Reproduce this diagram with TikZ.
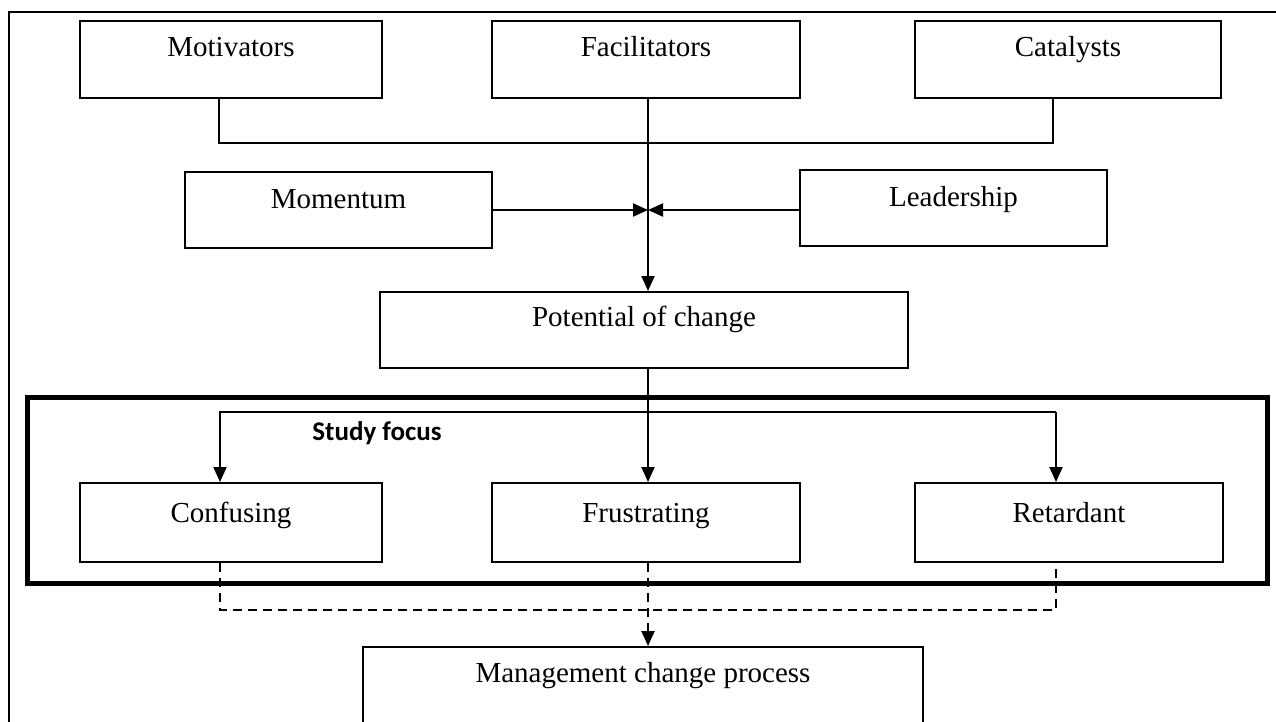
\documentclass[tikz,border=0pt]{standalone}
\usepackage{fontspec}
\setmainfont{Liberation Serif}
\newfontfamily\calib{Carlito}
\usetikzlibrary{arrows.meta}
\begin{document}
\begin{tikzpicture}[x=1pt,y=-1pt,
  box/.style={draw, line width=2pt, inner sep=0pt},
  lbl/.style={anchor=base, font=\fontsize{29}{32}\selectfont, inner sep=0pt},
  arr/.style={-{Triangle[length=15pt,width=13pt]}, line width=2pt},
  conn/.style={line width=2pt},
  dsh/.style={line width=2pt, dash pattern=on 9pt off 6pt}]
\useasboundingbox (0,0) rectangle (1276,722);
\clip (0,0) rectangle (1276,722);
\fill[white] (0,0) rectangle (1276,722);
% outer frame (cropped)
\draw[line width=2.5pt] (9,730) -- (9,12) -- (1280,12);

% boxes
\node[box, minimum width=302pt, minimum height=77pt] (mot) at (231,59.5) {};
\node[box, minimum width=308pt, minimum height=77pt] (fac) at (646,59.5) {};
\node[box, minimum width=306pt, minimum height=77pt] (cat) at (1068,59.5) {};
\node[box, minimum width=307pt, minimum height=76pt] (mom) at (338.5,210) {};
\node[box, minimum width=307pt, minimum height=76pt] (lea) at (953.5,208) {};
\node[box, minimum width=528pt, minimum height=76pt] (pot) at (644,330) {};
\node[draw, line width=5pt, inner sep=0pt, minimum width=1240pt, minimum height=186pt] (focus) at (647,490) {};
\node[box, minimum width=302pt, minimum height=79pt] (con) at (231,522.5) {};
\node[box, minimum width=308pt, minimum height=79pt] (fru) at (646,522.5) {};
\node[box, minimum width=308pt, minimum height=79pt] (ret) at (1069,522.5) {};
\node[box, minimum width=560pt, minimum height=100pt] (man) at (643,697) {};

% labels
\node[lbl] (motT) at (mot.center |- 0,57) {Motivators};
\node[lbl] (facT) at (fac.center |- 0,57) {Facilitators};
\node[lbl] (catT) at (cat.center |- 0,57) {Catalysts};
\node[lbl] (momT) at (mom.center |- 0,208) {Momentum};
\node[lbl] (leaT) at (lea.center |- 0,207) {Leadership};
\node[lbl] (potT) at (pot.center |- 0,326) {Potential of change};
\node[lbl] (conT) at (con.center |- 0,522) {Confusing};
\node[lbl] (fruT) at (fru.center |- 0,522) {Frustrating};
\node[lbl] (retT) at (ret.center |- 0,522) {Retardant};
\node[lbl] (manT) at (man.center |- 0,682) {Management change process};
\node[anchor=base, inner sep=0pt, font=\calib\bfseries\fontsize{27}{30}\selectfont] (sf) at (377,440) {Study focus};

% junction coordinates
\coordinate (jx) at (648,0);
\coordinate (m1) at (219,143);
\coordinate (c1) at (1053,143);
\coordinate (jn) at (648,210);
\coordinate (h1) at (220,412);
\coordinate (h2) at (1056,412);
\coordinate (d1) at (220,610);
\coordinate (d2) at (1056,610);

% connectors
\draw[conn] (m1 |- mot.south) -- (m1) -- (c1) -- (c1 |- cat.south);
\draw[arr] (jx |- fac.south) -- (jx |- pot.north);
\draw[arr] (mom.east |- jn) -- (jn);
\draw[arr] (lea.west |- jn) -- (jn);
\draw[arr] (jx |- pot.south) -- (jx |- fru.north);
\draw[arr] (h2) -- (h1) -- (h1 |- con.north);
\draw[arr] (h2) -- (h2 |- ret.north);
\draw[dsh] (d1 |- con.south) -- (d1) -- (d2) -- (d2 |- ret.south);
\draw[dsh, -{Triangle[length=15pt,width=13pt]}] (jx |- fru.south) -- (jx |- man.north);
\end{tikzpicture}
\end{document}
